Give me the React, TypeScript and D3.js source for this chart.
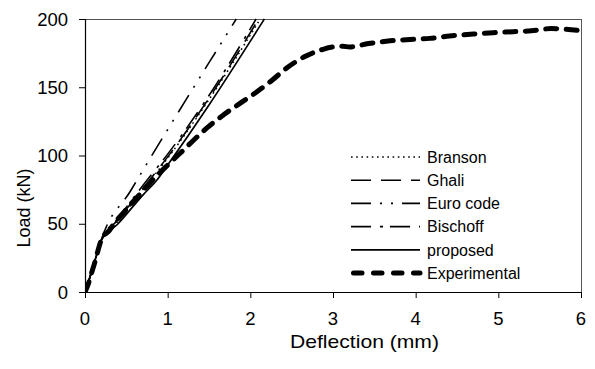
import React from "react";
import * as d3 from "d3";

// Load–deflection data (deflection in mm, load in kN)
const bransonX = [0, 0.05, 0.1, 0.15, 0.19, 0.4, 0.7, 1.0, 1.5, 2.12];
const bransonY = [0, 9, 19, 29, 37, 52, 75, 98, 141, 200];

const ghaliX = [0, 0.05, 0.1, 0.15, 0.19, 0.4, 0.7, 1.0, 1.5, 2.1];
const ghaliY = [0, 9, 19, 29, 37, 53, 76, 99, 142, 200];

const euroX = [0, 0.05, 0.1, 0.15, 0.19, 0.55, 1.0, 1.5, 1.83];
const euroY = [0, 9, 19, 29, 37, 74, 119, 168, 200];

const bischoffX = [0, 0.05, 0.1, 0.15, 0.19, 0.4, 0.7, 1.0, 1.5, 2.07];
const bischoffY = [0, 9, 19, 29, 37, 54, 78, 101, 144, 200];

const proposedX = [0, 0.05, 0.1, 0.15, 0.19, 0.4, 0.7, 0.87, 1.0, 1.5, 2.17];
const proposedY = [0, 9, 19, 29, 37, 50, 71, 82, 93, 137, 200];

const experimentalX = [
  0, 0.04, 0.08, 0.12, 0.16, 0.19, 0.22, 0.28, 0.35, 0.45, 0.55, 0.7, 0.85,
  1.0, 1.15, 1.31, 1.49, 1.67, 1.87, 2.08, 2.26, 2.46, 2.66, 2.88, 3.0, 3.12,
  3.2, 3.43, 3.69, 3.93, 4.17, 4.41, 4.7, 4.94, 5.18, 5.4, 5.64, 5.8, 6.0,
];
const experimentalY = [
  0, 6, 14, 22, 31, 37, 41, 44, 50, 57, 64, 74, 84, 93, 101.6, 111, 121,
  129.5, 138, 146.7, 155, 165, 172.5, 177.8, 179.5, 180, 179.5, 182, 184, 185,
  185.8, 187.5, 189, 190, 190.7, 191.4, 193, 192.5, 191.5,
];

const xTicks = [0, 1, 2, 3, 4, 5, 6];
const yTicks = [0, 50, 100, 150, 200];

const seriesNames = ["Branson", "Ghali", "Euro code", "Bischoff", "proposed", "Experimental"];

type Style = { dash: string; legendDash: string; width: number; cap: "butt" | "round" };

const styles: Style[] = [
  { dash: "1.6,3.6", legendDash: "1.6,3.6", width: 1.5, cap: "butt" },
  { dash: "20,10", legendDash: "20,10", width: 1.6, cap: "butt" },
  { dash: "20,9,2,9,2,9", legendDash: "20,9,2,9,2,9", width: 1.6, cap: "butt" },
  { dash: "20,9,3,7", legendDash: "20,9,3,7", width: 1.6, cap: "butt" },
  { dash: "", legendDash: "", width: 1.7, cap: "butt" },
  { dash: "11,9.5", legendDash: "8.5,11.5", width: 5, cap: "round" },
];

const seriesData: [number[], number[]][] = [
  [bransonX, bransonY],
  [ghaliX, ghaliY],
  [euroX, euroY],
  [bischoffX, bischoffY],
  [proposedX, proposedY],
  [experimentalX, experimentalY],
];

const W = 595;
const H = 369;
const left = 85;
const right = 581;
const top = 19;
const bottom = 292;

const FONT = "Arial, 'Liberation Sans', sans-serif";

export default function App() {
  const x = d3.scaleLinear().domain([0, 6]).range([left, right]);
  const y = d3.scaleLinear().domain([0, 200]).range([bottom, top]);

  const line = d3
    .line<[number, number]>()
    .x((d) => x(d[0]))
    .y((d) => y(d[1]))
    .curve(d3.curveMonotoneX);

  const legendX0 = 351;
  const legendX1 = 420;
  const legendTextX = 427;
  const legendY0 = 157;
  const legendStep = 23.2;

  return (
    <svg
      width={W}
      height={H}
      style={{ position: "fixed", left: 0, top: 0, background: "#fff" }}
      fontFamily={FONT}
    >
      <defs>
        <clipPath id="plotClip">
          <rect x={left} y={top - 3} width={right - left + 3} height={bottom - top + 3} />
        </clipPath>
      </defs>
      <rect x={0} y={0} width={W} height={H} fill="#fff" />

      {/* frame: top and right edges */}
      <line x1={left} x2={right + 0.5} y1={top + 0.5} y2={top + 0.5} stroke="#555" strokeWidth={1} />
      <line x1={right + 0.5} x2={right + 0.5} y1={top} y2={bottom} stroke="#555" strokeWidth={1} />

      {/* series */}
      <g clipPath="url(#plotClip)">
        {seriesData.map(([xs, ys], i) => {
          const pts = xs.map((v, k) => [v, ys[k]] as [number, number]);
          const s = styles[i];
          return (
            <path
              key={seriesNames[i]}
              d={line(pts) || ""}
              fill="none"
              stroke="#000"
              strokeWidth={s.width}
              strokeDasharray={s.dash || undefined}
              strokeLinecap={s.cap}
              strokeLinejoin="round"
            />
          );
        })}
      </g>

      {/* axes */}
      <line x1={left + 0.5} x2={left + 0.5} y1={top} y2={bottom + 0.5} stroke="#000" strokeWidth={1.2} />
      <line x1={left} x2={right + 1} y1={bottom + 0.5} y2={bottom + 0.5} stroke="#000" strokeWidth={1.2} />

      {xTicks.map((t) => (
        <g key={"xt" + t}>
          <line x1={x(t) + 0.5} x2={x(t) + 0.5} y1={bottom} y2={bottom + 6} stroke="#000" strokeWidth={1} />
          <text x={x(t)} y={325} fontSize={18.5} textAnchor="middle" fill="#000">
            {t}
          </text>
        </g>
      ))}

      {yTicks.map((t) => (
        <g key={"yt" + t}>
          <line x1={left - 6} x2={left + 0.5} y1={y(t) + 0.5} y2={y(t) + 0.5} stroke="#000" strokeWidth={1} />
          <text x={68} y={y(t) + 6.5} fontSize={18.5} textAnchor="end" fill="#000">
            {t}
          </text>
        </g>
      ))}

      <text
        x={364.5}
        y={347.5}
        fontSize={18.5}
        textAnchor="middle"
        textLength={149}
        lengthAdjust="spacingAndGlyphs"
        fill="#000"
      >
        Deflection (mm)
      </text>
      <text
        transform={`translate(30,208) rotate(-90)`}
        fontSize={18}
        textAnchor="middle"
        fill="#000"
      >
        Load (kN)
      </text>

      {/* legend */}
      {seriesNames.map((name, i) => {
        const cy = legendY0 + i * legendStep;
        const s = styles[i];
        return (
          <g key={"lg" + name}>
            <line
              x1={legendX0 + (s.cap === "round" ? 2.5 : 0)}
              x2={legendX1}
              y1={cy}
              y2={cy}
              stroke="#000"
              strokeWidth={s.width}
              strokeDasharray={s.legendDash || undefined}
              strokeLinecap={s.cap}
            />
            <text x={legendTextX} y={cy + 5.8} fontSize={16} fill="#000">
              {name}
            </text>
          </g>
        );
      })}
    </svg>
  );
}
